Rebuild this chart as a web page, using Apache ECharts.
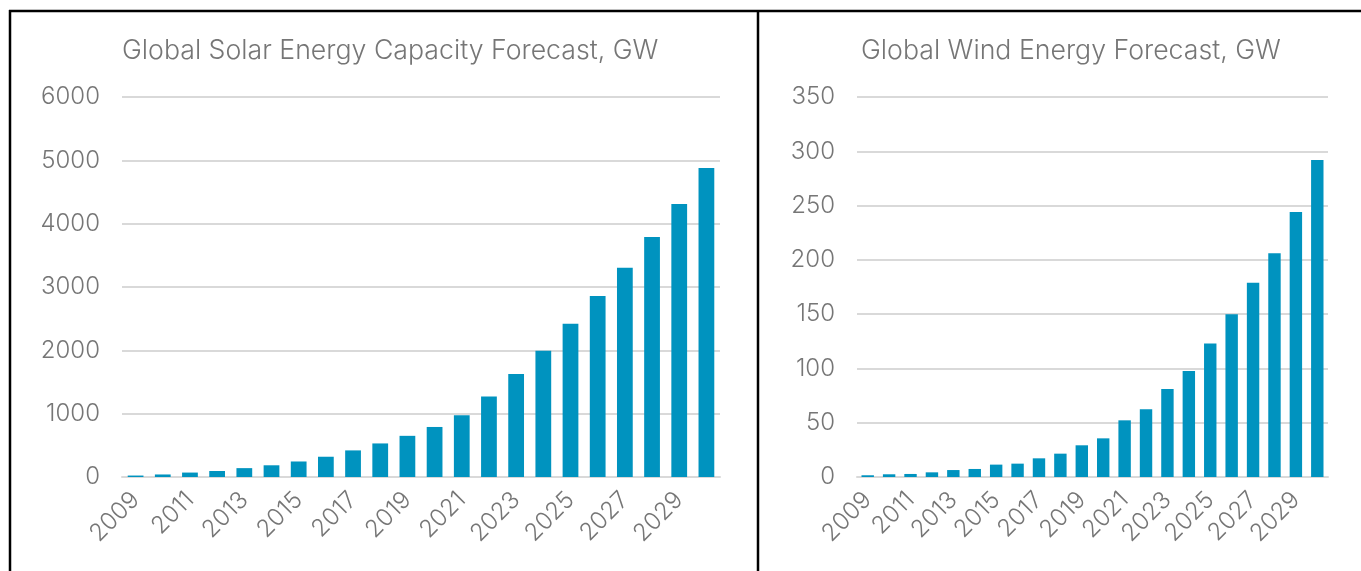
<!DOCTYPE html>
<html>
<head>
<meta charset="utf-8">
<script src="https://cdn.jsdelivr.net/npm/echarts@6/dist/echarts.min.js"></script>
<style>
html,body{margin:0;padding:0;background:#fff;}
#c{width:1361px;height:571px;}
</style>
</head>
<body>
<div id="c"></div>
<script>
const years = ['2009','2010','2011','2012','2013','2014','2015','2016','2017','2018','2019','2020','2021','2022','2023','2024','2025','2026','2027','2028','2029','2030'];
const solarGW = [23,40,70,95,140,185,245,320,420,530,650,790,975,1270,1628,1992,2419,2857,3304,3790,4310,4880];
const windGW = [1.6,2.5,2.8,4.3,6.4,7.4,11.4,12.3,17.2,21.5,29.2,35.6,52.2,62.3,81,97.6,123,150,179,206,244,292];
const solarTicks = {min:0,max:6000,interval:1000};
const windTicks = {min:0,max:350,interval:50};
const titles = ['Global Solar Energy Capacity Forecast, GW','Global Wind Energy Forecast, GW'];

const FONT = 'Inter, "Noto Sans", sans-serif';
const GRAY = '#767676';
const GRID = '#D9D9D9';
const BAR = '#0093BF';

function xAxis(gi){
  return {
    type:'category', gridIndex:gi, data:years,
    axisTick:{show:false},
    axisLine:{lineStyle:{color:GRID,width:2}},
    axisLabel:{interval:1,rotate:45,color:GRAY,fontFamily:FONT,fontSize:24,fontWeight:300,margin:19}
  };
}
function yAxis(gi,t){
  return {
    type:'value', gridIndex:gi, min:t.min, max:t.max, interval:t.interval,
    axisLine:{show:false}, axisTick:{show:false},
    splitLine:{lineStyle:{color:GRID,width:2}},
    axisLabel:{color:GRAY,fontFamily:FONT,fontSize:24,fontWeight:300,margin:22,formatter:function(v){return String(v);}}
  };
}
const chart = echarts.init(document.getElementById('c'));
chart.setOption({
  animation:false,
  title:[
    {text:titles[0],left:117,top:32,textStyle:{color:GRAY,fontFamily:FONT,fontSize:26.7,fontWeight:300}},
    {text:titles[1],left:856,top:32,textStyle:{color:GRAY,fontFamily:FONT,fontSize:26.7,fontWeight:300}}
  ],
  grid:[
    {left:122,top:97,width:598,height:380},
    {left:857,top:97,width:471,height:380}
  ],
  xAxis:[xAxis(0),xAxis(1)],
  yAxis:[yAxis(0,solarTicks),yAxis(1,windTicks)],
  series:[
    {type:'bar',xAxisIndex:0,yAxisIndex:0,data:solarGW,barCategoryGap:'42%',itemStyle:{color:BAR}},
    {type:'bar',xAxisIndex:1,yAxisIndex:1,data:windGW,barCategoryGap:'42%',itemStyle:{color:BAR}}
  ],
  graphic:[
    {type:'line',shape:{x1:9,y1:11,x2:1361,y2:11},style:{stroke:'#000',lineWidth:2.5}},
    {type:'line',shape:{x1:10,y1:10,x2:10,y2:571},style:{stroke:'#000',lineWidth:2.5}},
    {type:'line',shape:{x1:758,y1:10,x2:758,y2:571},style:{stroke:'#000',lineWidth:2.5}}
  ]
});
</script>
</body>
</html>
